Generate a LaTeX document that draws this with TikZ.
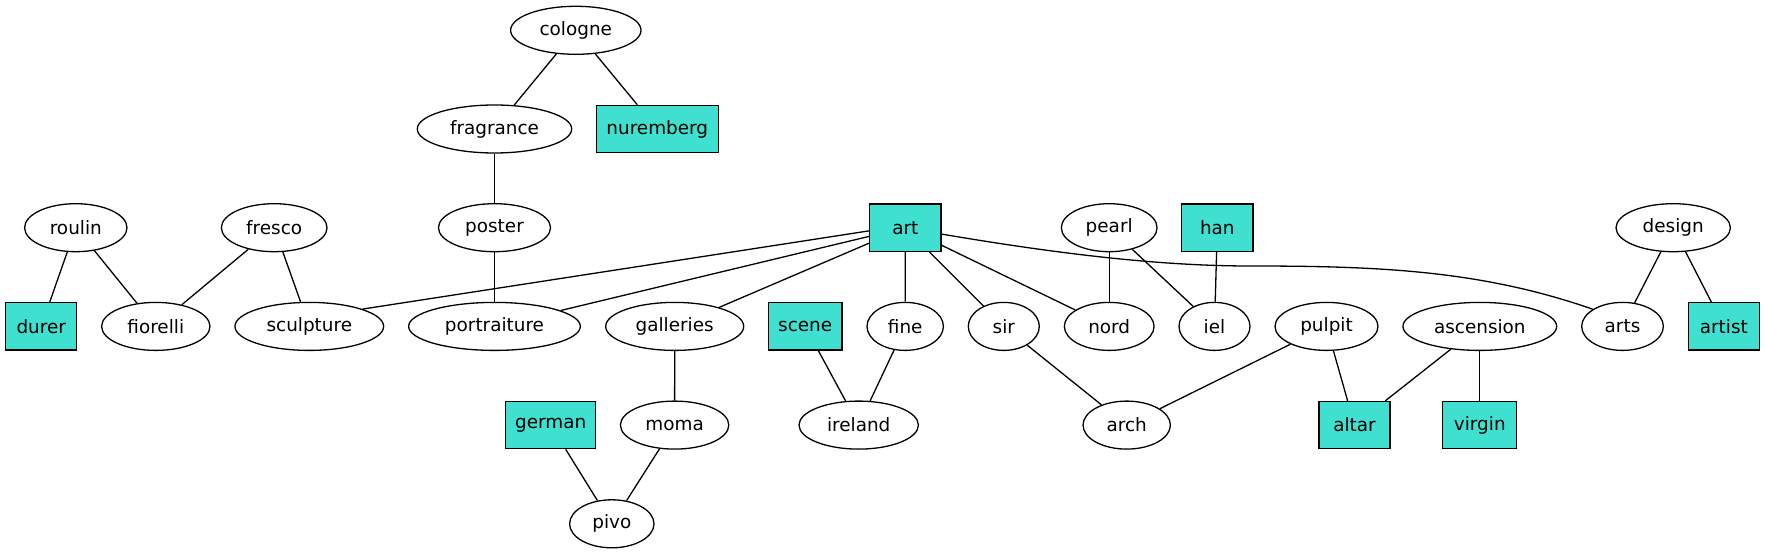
\documentclass[tikz,border=0pt]{standalone}
\usepackage{fontspec}
\setmainfont{DejaVu Sans}
\usetikzlibrary{shapes.geometric}
\definecolor{turq}{HTML}{40E0D0}
\tikzset{
  ell/.style={ellipse, draw, line width=0.65pt, minimum height=24pt, inner sep=0pt, font=\fontsize{9.2}{11}\selectfont},
  bx/.style={rectangle, draw, line width=0.65pt, fill=turq, minimum height=23.6pt, inner sep=0pt, font=\fontsize{9.2}{11}\selectfont},
  edge/.style={draw, line width=0.65pt}
}
\begin{document}
\begin{tikzpicture}[x=0.5pt,y=-0.5pt]
\useasboundingbox (0,0) rectangle (1765,555);
% rank 0
\node[ell, minimum width=65.2pt] (cologne) at (575.8,30.3) {cologne};
% rank 1
\node[ell, minimum width=77.2pt] (fragrance) at (494.5,129) {fragrance};
\node[bx, minimum width=61pt] (nuremberg) at (657.3,129) {nuremberg};
% rank 2
\node[ell, minimum width=51.2pt] (roulin) at (75.8,227.7) {roulin};
\node[ell, minimum width=52.85pt] (fresco) at (274.2,227.7) {fresco};
\node[ell, minimum width=56.05pt] (poster) at (494.5,227.7) {poster};
\node[bx, minimum width=35.7pt] (art) at (905.3,227.7) {art};
\node[ell, minimum width=47.85pt] (pearl) at (1109.2,227.7) {pearl};
\node[bx, minimum width=35.7pt] (han) at (1217.3,227.7) {han};
\node[ell, minimum width=57.2pt] (design) at (1673.2,227.7) {design};
% rank 3
\node[bx, minimum width=35.5pt] (durer) at (41.2,326.4) {durer};
\node[ell, minimum width=54.2pt] (fiorelli) at (155.8,326.4) {fiorelli};
\node[ell, minimum width=74.35pt] (sculpture) at (309.3,326.4) {sculpture};
\node[ell, minimum width=85.85pt] (portraiture) at (494.5,326.4) {portraiture};
\node[ell, minimum width=69pt] (galleries) at (674.7,326.4) {galleries};
\node[bx, minimum width=36.85pt] (scene) at (805.2,326.4) {scene};
\node[ell, minimum width=38.2pt] (fine) at (905.2,326.4) {fine};
\node[ell, minimum width=35.5pt] (sir) at (1003.8,326.4) {sir};
\node[ell, minimum width=44.85pt] (nord) at (1109.2,326.4) {nord};
\node[ell, minimum width=35.5pt] (iel) at (1214.5,326.4) {iel};
\node[ell, minimum width=51.5pt] (pulpit) at (1326.5,326.4) {pulpit};
\node[ell, minimum width=76.85pt] (ascension) at (1479.8,326.4) {ascension};
\node[ell, minimum width=40.85pt] (arts) at (1622.5,326.4) {arts};
\node[bx, minimum width=35.5pt] (artist) at (1723.8,326.4) {artist};
% rank 4
\node[bx, minimum width=45pt] (german) at (550.7,425.1) {german};
\node[ell, minimum width=54.2pt] (moma) at (674.6,425.1) {moma};
\node[ell, minimum width=59.7pt] (ireland) at (858.7,425.1) {ireland};
\node[ell, minimum width=43.7pt] (arch) at (1126.7,425.1) {arch};
\node[bx, minimum width=35.5pt] (altar) at (1354.5,425.1) {altar};
\node[bx, minimum width=37pt] (virgin) at (1479.8,425.1) {virgin};
% rank 5
\node[ell, minimum width=42.2pt] (pivo) at (611.8,523.8) {pivo};
% edges
\path[edge] (cologne) -- (fragrance);
\path[edge] (cologne) -- (nuremberg);
\path[edge] (fragrance) -- (poster);
\path[edge] (poster) -- (portraiture);
\path[edge] (roulin) -- (durer);
\path[edge] (roulin) -- (fiorelli);
\path[edge] (fresco) -- (fiorelli);
\path[edge] (fresco) -- (sculpture);
\path[edge] (art.185) -- (sculpture.18);
\path[edge] (art) -- (portraiture);
\path[edge] (art) -- (galleries);
\path[edge] (art) -- (fine);
\path[edge] (art) -- (sir);
\path[edge] (art) -- (nord);
\path[edge] (art.-10) .. controls (1041.7,251) and (1150,266) .. (1250,266) .. controls (1380,266) and (1481.7,270.5) .. (arts.150);
\path[edge] (pearl) -- (nord);
\path[edge] (pearl) -- (iel);
\path[edge] (han) -- (iel);
\path[edge] (design) -- (arts);
\path[edge] (design) -- (artist);
\path[edge] (galleries) -- (moma);
\path[edge] (scene) -- (ireland);
\path[edge] (fine) -- (ireland);
\path[edge] (sir) -- (arch);
\path[edge] (pulpit) -- (arch);
\path[edge] (pulpit) -- (altar);
\path[edge] (ascension) -- (altar);
\path[edge] (ascension) -- (virgin);
\path[edge] (german) -- (pivo);
\path[edge] (moma) -- (pivo);
\end{tikzpicture}
\end{document}
